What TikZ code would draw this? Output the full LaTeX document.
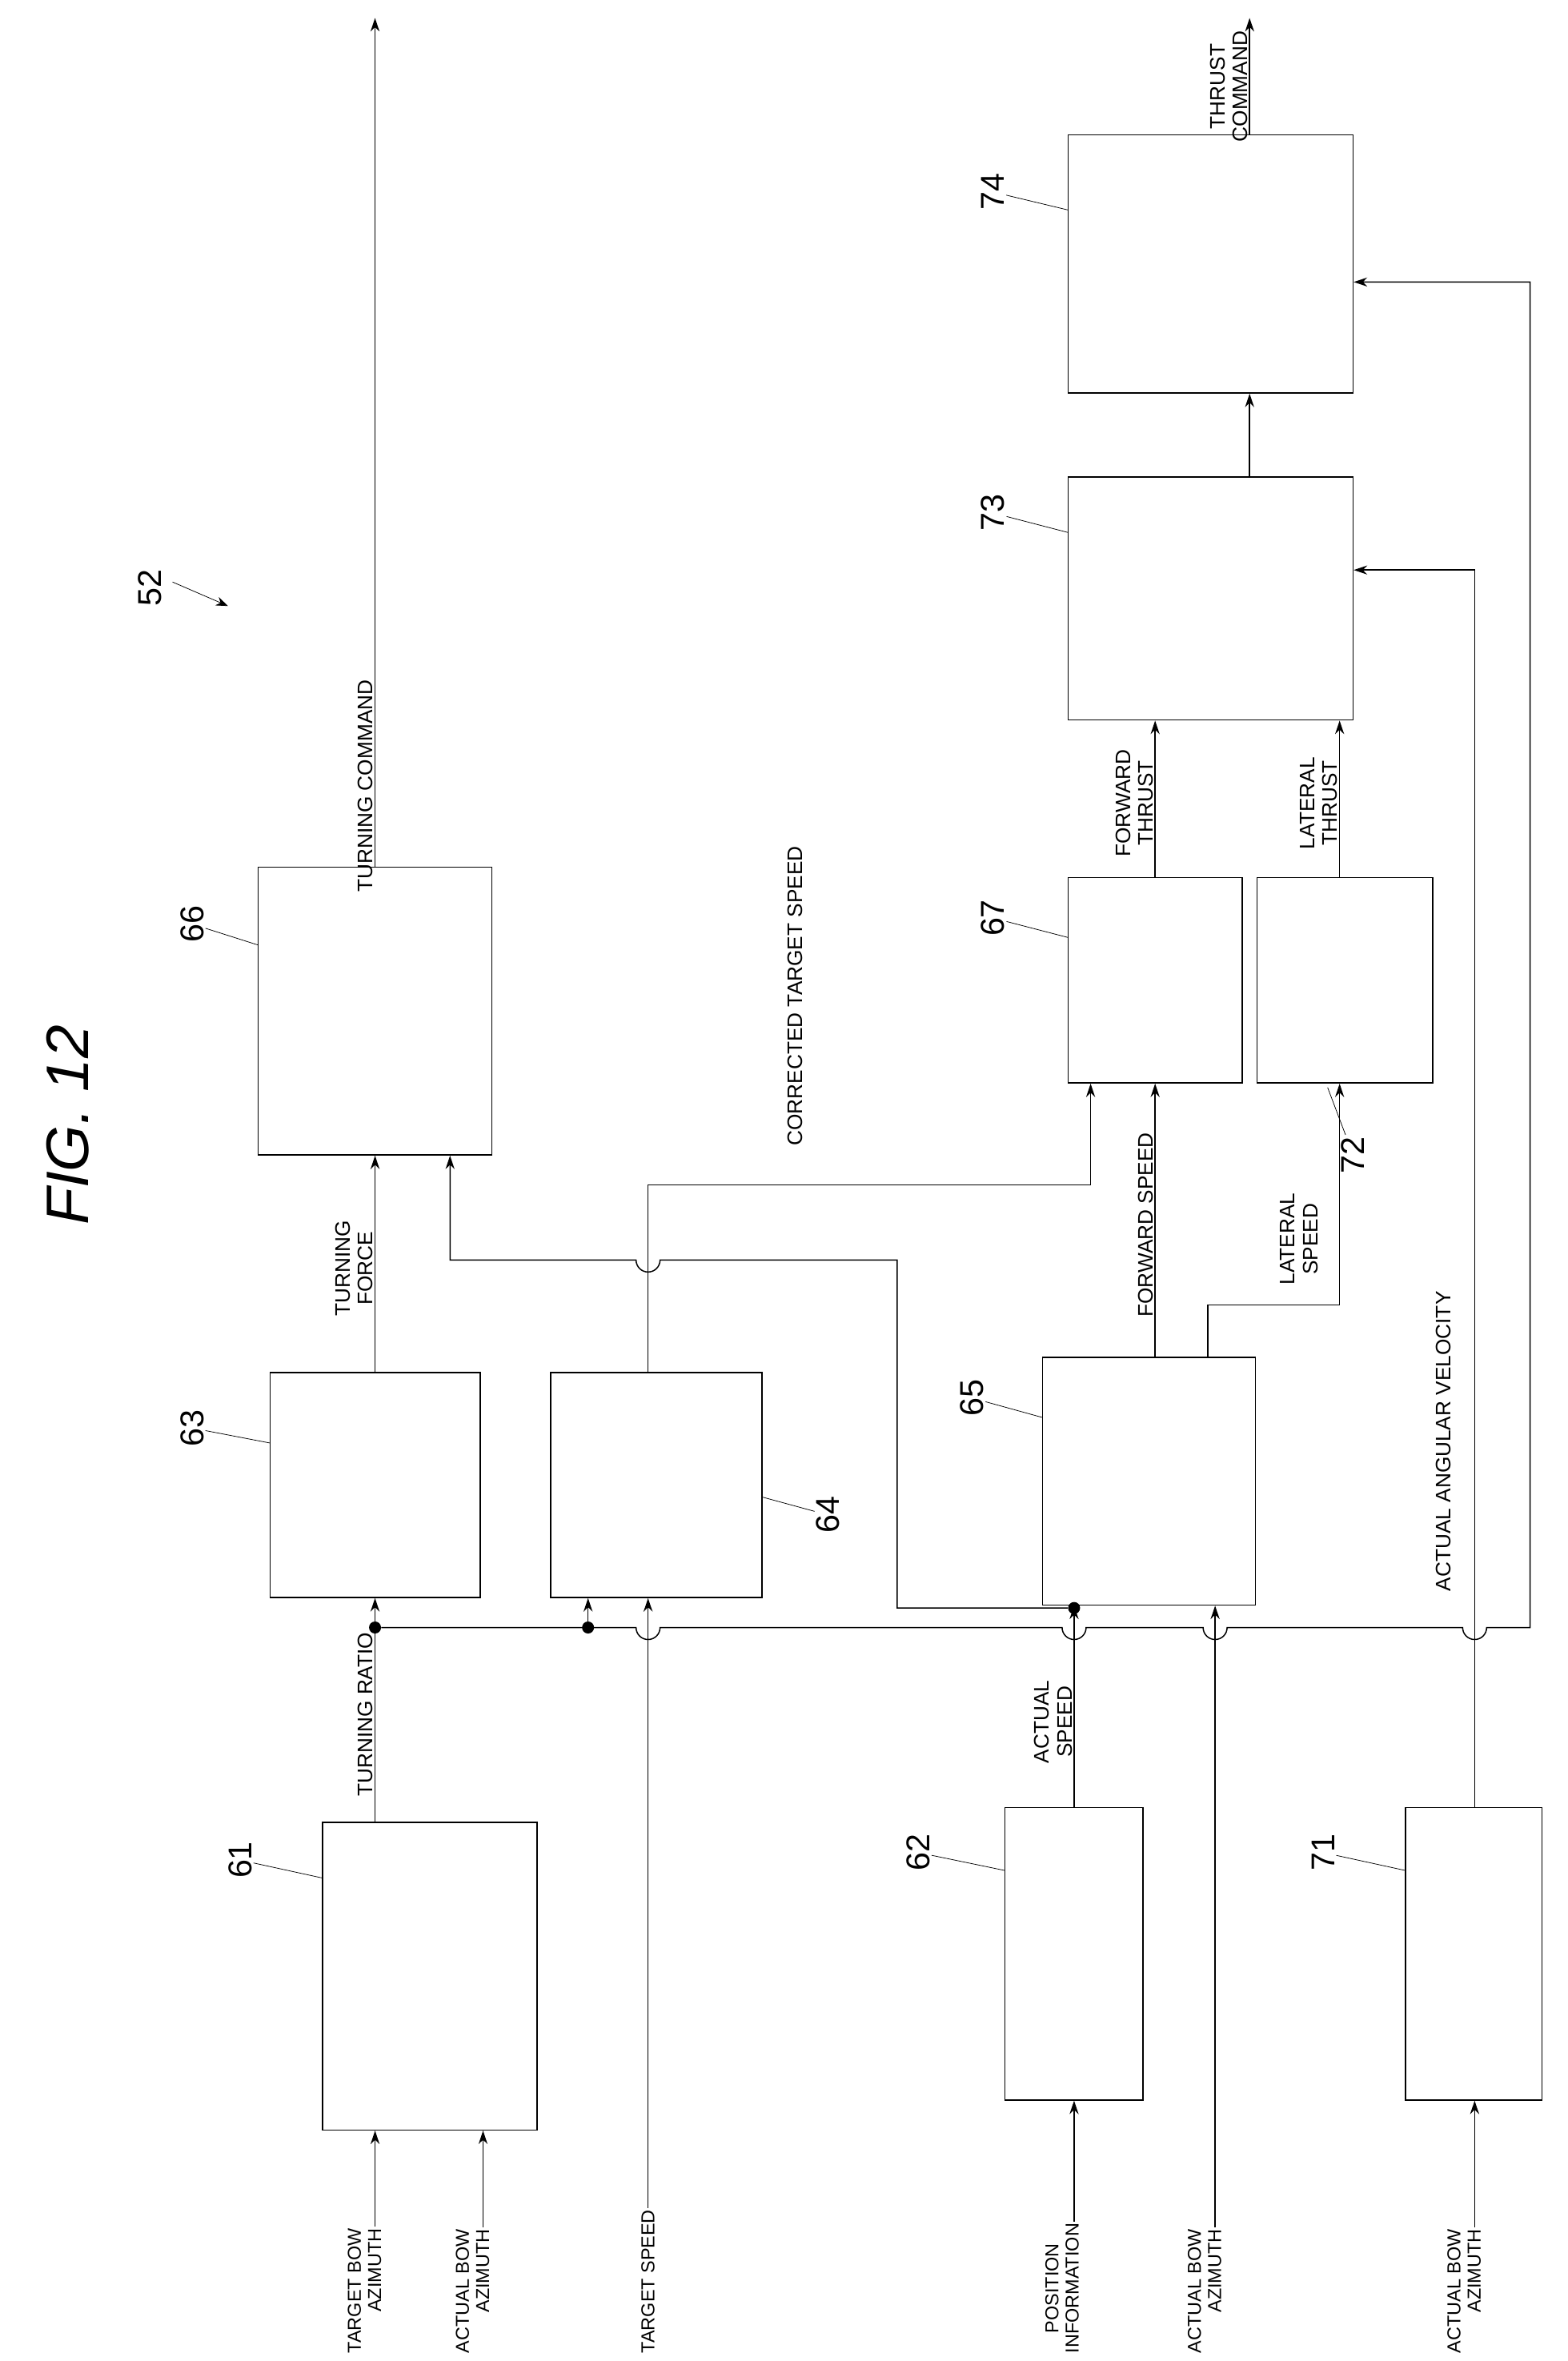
\documentclass[tikz,border=0pt]{standalone}
\usepackage{fontspec}
\setmainfont{Liberation Sans}
\usetikzlibrary{arrows.meta}
\tikzset{
  blk/.style={draw,thick,inner sep=0pt},
  lbl/.style={rotate=90,font=\fontsize{14}{15}\selectfont,inner sep=1pt,align=center},
  num/.style={rotate=90,font=\fontsize{22}{22}\selectfont,inner sep=1pt},
  sig/.style={thick,-{Stealth[length=9pt,width=6pt]}},
  dot/.style={circle,fill,inner sep=0pt,minimum size=8pt},
}
\newcommand{\blkat}[5]{\node[blk,minimum width=#4-#2,minimum height=#5-#3] (#1) at ({(#2+#4)/2},{(#3+#5)/2}) {};}
\begin{document}
\begin{tikzpicture}[x=1pt,y=-1pt]
  \useasboundingbox (0,0) rectangle (1045,1574);
  % blocks
  \blkat{b61}{215}{1215}{358}{1420}
  \blkat{b62}{670}{1205}{762}{1400}
  \blkat{b71}{937}{1205}{1028}{1400}
  \blkat{b63}{180}{915}{320}{1065}
  \blkat{b64}{367}{915}{508}{1065}
  \blkat{b65}{695}{905}{837}{1070}
  \blkat{b66}{172}{578}{328}{770}
  \blkat{b67}{712}{585}{828}{722}
  \blkat{b72}{838}{585}{955}{722}
  \blkat{b73}{712}{318}{902}{480}
  \blkat{b74}{712}{90}{902}{262}
  % reference numbers
  \node[num] (n61) at (160,1240) {61}; \draw (n61) -- (215,1252);
  \node[num] (n62) at (612,1235) {62}; \draw (n62) -- (670,1247);
  \node[num] (n71) at (882,1235) {71}; \draw (n71) -- (937,1247);
  \node[num] (n63) at (128,952) {63};  \draw (n63) -- (180,962);
  \node[num] (n64) at (552,1010) {64}; \draw (n64) -- (508,998);
  \node[num] (n65) at (648,932) {65};  \draw (n65) -- (695,945);
  \node[num] (n66) at (128,616) {66};  \draw (n66) -- (172,630);
  \node[num] (n67) at (662,612) {67};  \draw (n67) -- (712,625);
  \node[num] (n72) at (902,770) {72};  \draw (n72) -- (885,725);
  \node[num] (n73) at (662,342) {73};  \draw (n73) -- (712,355);
  \node[num] (n74) at (662,128) {74};  \draw (n74) -- (712,140);
  \node[num] (n52) at (100,392) {52};  \draw[-{Stealth[length=8pt]}] (115,388) -- (152,404);
  \node[rotate=90,font=\fontsize{40}{40}\selectfont\itshape] (fig) at (45,750) {FIG. 12};
  % inputs
  \node[lbl,anchor=west,font=\fontsize{12.5}{13.5}\selectfont] (i1) at (243,1570) {TARGET BOW\\\hfill AZIMUTH};
  \node[lbl,anchor=west,font=\fontsize{12.5}{13.5}\selectfont] (i2) at (315,1570) {ACTUAL BOW\\\hfill AZIMUTH};
  \node[lbl,anchor=west,font=\fontsize{12.5}{13.5}\selectfont] (i3) at (432,1570) {TARGET SPEED};
  \node[lbl,anchor=west,font=\fontsize{12.5}{13.5}\selectfont] (i4) at (708,1570) {POSITION\\INFORMATION};
  \node[lbl,anchor=west,font=\fontsize{12.5}{13.5}\selectfont] (i5) at (803,1570) {ACTUAL BOW\\\hfill AZIMUTH};
  \node[lbl,anchor=west,font=\fontsize{12.5}{13.5}\selectfont] (i6) at (976,1570) {ACTUAL BOW\\\hfill AZIMUTH};
  \draw[sig] (i1.east -| 250,0) -- (250,0 |- b61.south);
  \draw[sig] (i2.east -| 322,0) -- (322,0 |- b61.south);
  \draw[sig] (i3.east) -- (432,0 |- b64.south);
  \draw[sig] (i4.east -| 716,0) -- (716,0 |- b62.south);
  \draw[sig] (i5.east -| 810,0) -- (810,0 |- b65.south);
  \draw[sig] (i6.east -| 983,0) -- (983,0 |- b71.south);
  % turning ratio
  \draw[sig] (250,0 |- b61.north) -- node[lbl,anchor=south,pos=0.5,xshift=-3pt]{TURNING RATIO} (250,0 |- b63.south);
  \node[dot] (d1) at (250,1085) {};
  \node[dot] (d2) at (392,1085) {};
  \draw[sig] (d1) -- (424,1085) arc (180:0:8) -- (708,1085) arc (180:0:8) -- (802,1085) arc (180:0:8)
    -- (975,1085) arc (180:0:8) -- (1020,1085) -- (1020,188) -- (b74.east |- 0,188);
  \draw[sig] (d2) -- (392,0 |- b64.south);
  % actual speed
  \node[dot] (d3) at (716,1072) {};
  \draw[thick] (716,0 |- b62.north) -- node[lbl,anchor=south,pos=0.45,xshift=-3pt]{ACTUAL\\SPEED} (d3.center);
  \draw[sig] (d3.center) -- (716,0 |- b65.south);
  \draw[sig] (d3) -- (598,1072) -- (598,840) -- (440,840) arc (0:180:8) -- (300,840) -- (300,0 |- b66.south);
  % turning
  \draw[sig] (250,0 |- b63.north) -- node[lbl,anchor=south,xshift=-3pt]{TURNING\\FORCE} (250,0 |- b66.south);
  \draw[sig] (250,0 |- b66.north) -- node[lbl,anchor=south,pos=0.1,xshift=-3pt]{TURNING COMMAND} (250,12);
  % corrected target speed
  \draw[sig] (432,0 |- b64.north) -- (432,790) -- (727,790) -- (727,0 |- b67.south);
  \node[lbl,anchor=west] (cts) at (530,765) {CORRECTED TARGET SPEED};
  % speeds
  \draw[sig] (770,0 |- b65.north) -- node[lbl,anchor=south,xshift=-3pt]{FORWARD SPEED} (770,0 |- b67.south);
  \draw[sig] (805,0 |- b65.north) -- (805,870) -- (893,870) -- (893,0 |- b72.south);
  \node[lbl] (ls) at (866,826) {LATERAL\\SPEED};
  \draw[sig] (770,0 |- b67.north) -- node[lbl,anchor=south,xshift=-3pt]{FORWARD\\THRUST} (770,0 |- b73.south);
  \draw[sig] (893,0 |- b72.north) -- node[lbl,anchor=south,xshift=-3pt]{LATERAL\\THRUST} (893,0 |- b73.south);
  % angular velocity
  \draw[sig] (983,0 |- b71.north) -- (983,380) -- (b73.east |- 0,380);
  \node[lbl,anchor=west] (aav) at (962,1062) {ACTUAL ANGULAR VELOCITY};
  % thrust
  \draw[sig] (833,0 |- b73.north) -- (833,0 |- b74.south);
  \draw[sig] (833,0 |- b74.north) -- node[lbl,anchor=south,pos=0.45,xshift=-3pt]{THRUST\\COMMAND} (833,12);
\end{tikzpicture}
\end{document}
